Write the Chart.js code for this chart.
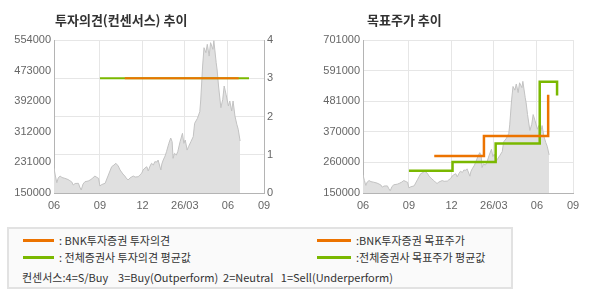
<!DOCTYPE html>
<html>
<head>
<meta charset="utf-8">
<script src="https://cdn.jsdelivr.net/npm/chart.js@4.4.1/dist/chart.umd.min.js"></script>
<style>
  body { margin:0; width:590px; height:300px; background:#fff; position:relative; overflow:hidden; font-family:"Noto Sans CJK KR", sans-serif }
  canvas { position:absolute; top:0 }
  .ttl { position:absolute; top:11px; font-size:13px; font-weight:bold; color:#333; line-height:18px }
  .lgbox { position:absolute; left:7px; top:227px; width:502px; height:58px; border:2px solid #e2e2e2; background:#fafafa }
  .ln { position:absolute; height:3px; width:31px }
  .tx { position:absolute; font-size:11px; color:#333; line-height:14px; white-space:pre }
</style>
</head>
<body>
<canvas id="opChart" width="295" height="220" style="left:0"></canvas>
<canvas id="tpChart" width="295" height="220" style="left:295px"></canvas>
<div class="ttl" style="left:55px">투자의견(컨센서스) 추이</div>
<div class="ttl" style="left:367px">목표주가 추이</div>

<div class="lgbox"></div>
<div class="ln" style="left:23px;top:239px;background:#ec7300"></div>
<div class="tx" style="left:59px;top:233px">: BNK투자증권 투자의견</div>
<div class="ln" style="left:23px;top:256px;background:#7ab800"></div>
<div class="tx" style="left:59px;top:250px">: 전체증권사 투자의견 평균값</div>
<div class="ln" style="left:317px;top:239px;width:34px;background:#ec7300"></div>
<div class="tx" style="left:356px;top:233px">:BNK투자증권 목표주가</div>
<div class="ln" style="left:317px;top:256px;width:34px;background:#7ab800"></div>
<div class="tx" style="left:356px;top:250px">:전체증권사 목표주가 평균값</div>
<div class="tx" style="left:22px;top:270px">컨센서스:4=S/Buy    3=Buy(Outperform)  2=Neutral   1=Sell(Underperform)</div>

<script>
// x axis is days from start of the window
const xTickDays = [0, 98, 189, 279, 371, 448]
const xTickLabels = ['06', '09', '12', '26/03', '06', '09']

// daily close (sampled)
const priceDays = [0,3,6,9,13,17,23,30,34,38,41,45,52,55,58,62,66,73,77,83,87,92,95,98,102,109,116,123,128,132,137,141,147,151,154,158,162,169,173,180,183,187,190,194,198,201,205,208,212,215,220,222,228,230,233,237,240,245,249,252,254,257,261,264,269,274,277,280,284,287,292,297,300,306,311,313,317,320,324,327,331,334,339,341,346,348,351,356,360,363,367,372,375,379,382,386,390,393,397]
const prices = [215200,194900,177200,189600,194900,190900,188800,185600,182500,179000,171100,175100,175600,165800,157900,173800,179800,181700,184300,189600,194900,190900,188800,168500,172400,175600,197500,219400,223900,228400,221300,210700,200200,194900,189600,184300,189600,194900,192200,193000,197500,202000,210700,216000,219400,208100,221300,228400,223900,232600,231900,237100,210700,226600,237100,247700,259100,281200,295200,285500,241600,254800,250300,259100,285500,307600,281200,289900,263500,272300,285500,298700,334000,347200,364700,395600,485300,533700,520500,542600,511700,546900,529400,552000,494100,474800,432500,375200,397400,432500,410600,379700,392900,366500,392900,353300,331400,318200,287300]

const leftPriceTicks = [150000, 231000, 312000, 392000, 473000, 554000]
const opinionTicks = [0, 1, 2, 3, 4]
const bnkOpinionDays = [151, 394]
const bnkOpinion = [3, 3]
const avgOpinionDays = [98, 416]
const avgOpinion = [3, 3]

const rightPriceTicks = [150000, 260000, 370000, 481000, 591000, 701000]
const bnkTargetDays = [152, 258, 395]
const bnkTarget = [283000, 355000, 504000]
const avgTargetDays = [98, 191, 283, 377, 414]
const avgTarget = [230000, 262000, 328000, 551000, 501000]

const ORANGE = '#ec7300'
const GREEN = '#7ab800'
const tickFont = { family: 'Liberation Sans', size: 11 }

const pts = (xs, ys) => xs.map((x, i) => ({ x: x, y: ys[i] }))

function xScale() {
  return {
    type: 'linear', min: 0, max: 448,
    afterBuildTicks: a => { a.ticks = xTickDays.map(v => ({ value: v })) },
    afterFit: s => { s.height = 27 },
    ticks: { callback: (v, i) => xTickLabels[i], color: '#666', font: tickFont, padding: 6, maxRotation: 0, autoSkip: false },
    grid: { color: '#e6e6e6', drawTicks: false },
    border: { color: '#b4b4b4' }
  }
}

function priceSet(axis) {
  return {
    data: pts(priceDays, prices), yAxisID: axis,
    borderColor: '#c2c2c2', borderWidth: 1, backgroundColor: '#e0e0e0', fill: 'start'
  }
}

const common = {
  responsive: false, animation: false,
  elements: { point: { radius: 0 }, line: { tension: 0 } },
  plugins: { legend: { display: false }, tooltip: { enabled: false } }
}

new Chart('opChart', {
  type: 'line',
  data: {
    datasets: [
      { data: pts(bnkOpinionDays, bnkOpinion), yAxisID: 'yO', borderColor: ORANGE, borderWidth: 2 },
      { data: pts(avgOpinionDays, avgOpinion), yAxisID: 'yO', borderColor: GREEN, borderWidth: 2 },
      priceSet('yP')
    ]
  },
  options: {
    ...common,
    layout: { padding: { top: 40, right: 0, left: 0, bottom: 0 } },
    scales: {
      x: xScale(),
      yP: {
        position: 'left', min: 150000, max: 554000,
        afterBuildTicks: a => { a.ticks = leftPriceTicks.map(v => ({ value: v })) },
        afterFit: s => { s.width = 54 },
        ticks: { callback: v => String(v), color: '#666', font: tickFont, padding: 3 },
        grid: { drawOnChartArea: false, drawTicks: false },
        border: { color: '#b4b4b4' }
      },
      yO: {
        position: 'right', min: 0, max: 4,
        afterBuildTicks: a => { a.ticks = opinionTicks.map(v => ({ value: v })) },
        afterFit: s => { s.width = 31 },
        ticks: { color: '#666', font: tickFont, padding: 3 },
        grid: { color: '#e6e6e6', drawTicks: false },
        border: { color: '#b4b4b4' }
      }
    }
  }
})

new Chart('tpChart', {
  type: 'line',
  data: {
    datasets: [
      { data: pts(bnkTargetDays, bnkTarget), borderColor: ORANGE, borderWidth: 2.5, stepped: true },
      { data: pts(avgTargetDays, avgTarget), borderColor: GREEN, borderWidth: 2.5, stepped: true },
      priceSet('y')
    ]
  },
  options: {
    ...common,
    layout: { padding: { top: 40, right: 17, left: 0, bottom: 0 } },
    scales: {
      x: xScale(),
      y: {
        position: 'left', min: 150000, max: 701000,
        afterBuildTicks: a => { a.ticks = rightPriceTicks.map(v => ({ value: v })) },
        afterFit: s => { s.width = 68 },
        ticks: { callback: v => String(v), color: '#666', font: tickFont, padding: 3 },
        grid: { color: '#e6e6e6', drawTicks: false },
        border: { color: '#b4b4b4' }
      }
    }
  }
})
</script>
</body>
</html>
